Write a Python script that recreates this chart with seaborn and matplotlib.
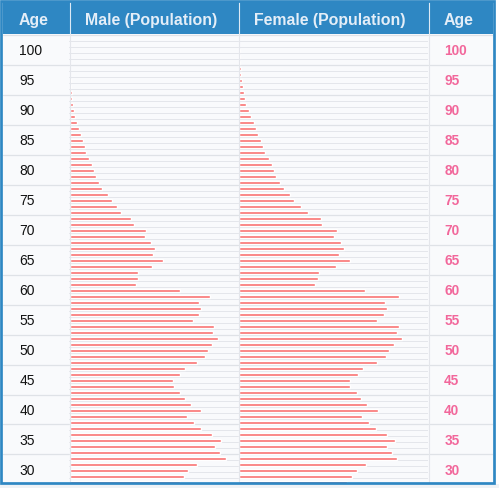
import numpy as np
import pandas as pd
import matplotlib.pyplot as plt
import seaborn as sns
from matplotlib.patches import Rectangle
from matplotlib.lines import Line2D

# single ages, top row first (the view is cut below 26)
ages = list(range(100, 25, -1))
group_ages = list(range(100, 29, -5))

male = [0, 0, 0, 0, 0.4,
        0.6, 0.7, 1.2, 1.3, 2,
        2.3, 3, 4.3, 5.7, 7,
        9, 11, 13, 15, 16.3,
        19.7, 22, 24, 26, 29.7,
        32.7, 38, 42.3, 47, 51.7,
        61.3, 64, 76.3, 75, 81.7,
        85.7, 83, 93, 82.7, 68.7,
        68, 66, 110.3, 140.7, 129,
        131.3, 129.3, 123.3, 144, 143,
        148.3, 142, 138.3, 135.3, 127.3,
        115, 110.7, 103.5, 104, 110.7,
        115, 121, 131.3, 117, 124,
        131, 142.3, 151, 145, 150,
        156.7, 127, 118.3, 114, 110]

female = [0, 0, 1.3, 1, 1.3,
          2, 2.3, 3.3, 4, 5,
          6.5, 7.7, 10, 12.7, 15,
          17.7, 19.7, 22, 24.3, 26,
          30, 33, 35, 37, 41,
          45, 51, 55.3, 62.7, 69,
          82, 83.7, 98.7, 95.3, 102.3,
          105, 100.7, 111, 97.3, 80,
          79.3, 76, 126.7, 160.3, 146,
          148, 145.3, 138, 160.3, 158.3,
          163.3, 155.7, 150.7, 147.3, 138,
          124.3, 119.3, 111, 111.3, 118,
          122.7, 128.3, 139, 123, 130,
          137, 148, 156, 148.7, 153,
          158.7, 127.7, 118, 113, 108.7]

headers = ['Age', 'Male (Population)', 'Female (Population)', 'Age']

df = pd.DataFrame({'age': [str(a) for a in ages], 'male': male, 'female': female})

W, H = 499, 489
BLUE = '#2E87C3'
BAR = '#F96F6F'
PINK = '#F2679B'
GRID = '#E4E6EB'
BODY = '#F9FAFC'

sns.set_style('white')
plt.rcParams['font.family'] = ['Liberation Sans', 'DejaVu Sans']

fig = plt.figure(figsize=(W / 100, H / 100), dpi=100)
fig.patch.set_facecolor('white')


def box(x0, y0, x1, y1):
    # pixel box (from top-left) -> figure fraction
    return [x0 / W, 1 - y1 / H, (x1 - x0) / W, (y1 - y0) / H]


top_px, bot_px = 35, 484
row_px = 6
y_top = -0.75                      # bar sits in the lower half of its row
line_off = 0.5 / row_px            # row lines on the first pixel row
y_bot = y_top + (bot_px - top_px) / row_px

cols = [(3, 69), (69, 238), (238, 428), (428, 493)]

axes = []
for x0, x1 in cols:
    ax = fig.add_axes(box(x0, top_px, x1, bot_px))
    ax.set_facecolor(BODY)
    axes.append(ax)

ax_l, ax_m, ax_f, ax_r = axes

# bars
for ax, col, (x0, x1) in [(ax_m, 'male', cols[1]), (ax_f, 'female', cols[2])]:
    sns.barplot(data=df, x=col, y='age', order=list(df['age']), color=BAR,
                saturation=1, width=0.5, orient='y', ax=ax, zorder=3)
    ax.set_xlim(-0.7, (x1 - x0) - 0.7)
    for i in range(len(ages)):
        ax.axhline(i + y_top + line_off,
                   color='#DFE2E7' if i % 5 == 0 else GRID,
                   lw=0.9 if i % 5 == 0 else 0.72, zorder=1)

# age columns
for ax, color, weight, size in [(ax_l, '#111111', 'normal', 10),
                                (ax_r, PINK, 'bold', 9.8)]:
    ax.set_xlim(0, 1)
    for g, a in enumerate(group_ages):
        ax.axhline(5 * g + y_top + line_off, color='#DFE2E7', lw=0.9)
        ax.text(16.5 / 66, 5 * g + y_top + 2.5 + 0.83, str(a), color=color,
                fontsize=size, fontweight=weight, ha='left', va='baseline',
                transform=ax.get_yaxis_transform())

for ax in axes:
    ax.set_ylim(y_bot, y_top)
    ax.set_xlabel('')
    ax.set_ylabel('')
    ax.set_xticks([])
    ax.set_yticks([])
    for s in ax.spines.values():
        s.set_visible(False)

# header
fig.add_artist(Rectangle((3 / W, 1 - 35 / H), 490 / W, 32 / H,
                         transform=fig.transFigure, facecolor=BLUE,
                         edgecolor='none', zorder=2))
for (x0, x1), label in zip(cols, headers):
    fig.text((x0 + 16) / W, 1 - 24.5 / H, label, color='#E4EEF8',
             fontsize=11.4, fontweight='bold', ha='left', va='baseline',
             zorder=4)

# column separators
for x in (69.5, 238.5, 428.5):
    fig.add_artist(Line2D([x / W] * 2, [1 - 3 / H, 1 - 35 / H],
                          transform=fig.transFigure, color='#DCEAF6', lw=0.8,
                          zorder=3))
    fig.add_artist(Line2D([x / W] * 2, [1 - 35 / H, 1 - bot_px / H],
                          transform=fig.transFigure, color=GRID, lw=0.8,
                          zorder=3))

# strip under the table and outer border
fig.add_artist(Rectangle((0, 0), 1, 4 / H, transform=fig.transFigure,
                         facecolor='#EEF2F6', edgecolor='none', zorder=1))
fig.add_artist(Rectangle((1.35 / W, 1 - 483.6 / H), 492.7 / W, 482.1 / H,
                         transform=fig.transFigure, fill=False,
                         edgecolor=BLUE, lw=1.95, zorder=10))

fig.savefig('out.png', dpi=100)
